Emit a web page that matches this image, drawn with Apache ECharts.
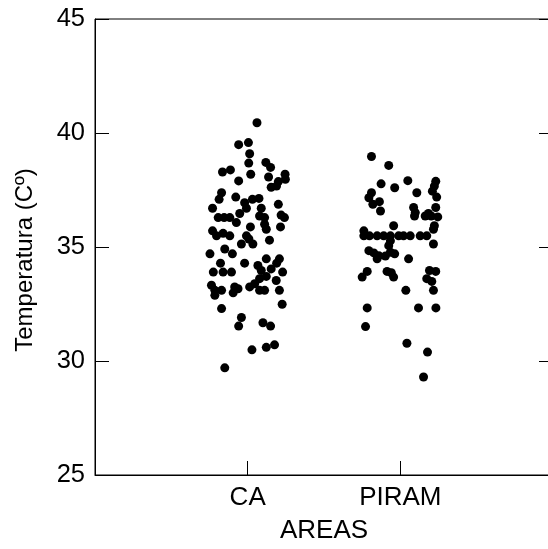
<!DOCTYPE html>
<html>
<head>
<meta charset="utf-8">
<script src="https://cdn.jsdelivr.net/npm/echarts@6/dist/echarts.min.js"></script>
<style>html,body{margin:0;padding:0;background:#fff;overflow:hidden;width:548px;height:549px}#c{width:556px;height:549px}</style>
</head>
<body>
<div id="c"></div>
<script>
var categories = ['CA', 'PIRAM'];
var yTicks = [25, 30, 35, 40, 45];

var caJitter = [0.061,-0.059,0.005,0.013,0.007,0.119,0.150,-0.165,-0.113,0.020,
  -0.059,0.137,0.245,0.247,0.201,0.154,0.189,-0.171,-0.187,-0.078,
  0.031,0.074,-0.230,-0.020,-0.008,0.089,0.201,-0.052,-0.193,-0.154,
  -0.117,0.078,0.111,0.219,0.241,-0.074,0.111,0.122,0.215,0.018,
  -0.230,-0.204,-0.161,-0.117,-0.008,0.008,0.034,-0.041,0.143,-0.150,
  -0.100,-0.247,-0.178,-0.020,0.122,0.208,0.190,0.067,-0.225,-0.161,
  -0.106,0.089,0.154,0.229,0.078,0.122,0.046,0.013,0.187,-0.237,
  -0.215,-0.171,-0.215,-0.085,-0.063,-0.095,0.078,0.111,0.208,-0.171,
  0.226,-0.041,-0.059,0.100,0.150,0.028,0.122,0.176,-0.150];
var caTemp = [40.45,39.49,39.58,39.09,38.68,38.71,38.49,38.29,38.38,38.19,
  37.90,38.07,38.19,37.97,37.87,37.62,37.67,37.38,37.09,37.19,
  37.09,37.13,36.70,36.94,36.70,36.70,36.87,36.47,36.29,36.29,
  36.29,36.36,36.29,36.40,36.29,36.07,36.00,35.78,35.88,35.88,
  35.71,35.49,35.60,35.49,35.49,35.35,35.13,35.13,35.30,34.91,
  34.70,34.70,34.29,34.29,34.48,34.48,34.29,34.19,33.90,33.90,
  33.90,33.97,34.04,33.90,33.61,33.71,33.39,33.25,33.53,33.32,
  33.10,33.10,32.88,33.25,33.17,32.99,33.10,33.10,33.10,32.30,
  32.49,31.91,31.53,31.68,31.53,30.49,30.60,30.71,29.70];

var piramJitter = [-0.189,-0.076,-0.126,-0.037,0.049,0.108,0.232,0.223,0.210,0.238,
  -0.189,-0.206,-0.180,-0.137,-0.130,0.087,0.098,0.093,0.184,0.163,
  0.202,0.232,0.245,-0.044,0.223,-0.239,-0.202,-0.152,-0.109,-0.065,
  -0.011,0.021,0.065,0.130,0.173,-0.239,0.217,-0.065,-0.076,0.217,
  -0.206,-0.174,-0.141,-0.152,-0.098,-0.065,-0.037,0.054,-0.217,-0.250,
  -0.087,-0.059,-0.044,0.191,0.232,0.173,0.206,0.036,0.217,-0.217,
  0.119,0.233,-0.228,0.043,0.178,0.152];
var piramTemp = [38.97,38.58,37.77,37.60,37.91,37.38,37.88,37.67,37.45,37.19,
  37.38,37.16,36.87,36.99,36.58,36.73,36.51,36.36,36.47,36.36,
  36.36,36.73,36.32,35.93,35.93,35.49,35.49,35.49,35.49,35.49,
  35.49,35.49,35.49,35.49,35.49,35.71,35.78,35.27,35.06,35.13,
  34.84,34.74,34.62,34.48,34.60,34.77,34.70,34.48,33.93,33.68,
  33.93,33.87,33.68,33.97,33.93,33.61,33.49,33.10,33.10,32.33,
  32.33,32.33,31.51,30.78,30.39,29.30];

function build(jit, temp, idx) {
  var out = [];
  for (var i = 0; i < temp.length; i++) out.push([idx + 1 + jit[i], temp[i]]);
  return out;
}

var FONT = 'Liberation Sans, Arial, Helvetica, sans-serif';
var chart = echarts.init(document.getElementById('c'));
var lineStyle = { color: '#000', width: 1 };
chart.setOption({
  animation: false,
  backgroundColor: '#fff',
  grid: { left: 95, top: 19, right: 0, bottom: 71, show: true, borderColor: '#000', borderWidth: 1, containLabel: false },
  xAxis: [{
    type: 'value', min: 0, max: categories.length + 1, interval: 1,
    name: 'AREAS', nameLocation: 'middle', nameGap: 43,
    nameTextStyle: { fontFamily: FONT, fontSize: 26, color: '#000' },
    axisLine: { show: true, lineStyle: lineStyle },
    axisTick: { show: true, inside: true, length: 14, lineStyle: lineStyle },
    axisLabel: { fontFamily: FONT, fontSize: 26, color: '#000', margin: 10,
      formatter: function (v) { return categories[Math.round(v) - 1] || ''; } },
    splitLine: { show: false }
  }],
  yAxis: [{
    type: 'value', min: yTicks[0], max: yTicks[yTicks.length - 1], interval: 5, position: 'left',
    name: 'Temperatura (Cº)', nameLocation: 'middle', nameGap: 58,
    nameTextStyle: { fontFamily: FONT, fontSize: 24, color: '#000', padding: [0, 26, 0, 0] },
    axisLine: { show: true, lineStyle: lineStyle },
    axisTick: { show: true, inside: true, length: 14, lineStyle: lineStyle },
    axisLabel: { fontFamily: FONT, fontSize: 25.5, color: '#000', margin: 10 },
    splitLine: { show: false }
  }, {
    type: 'value', min: yTicks[0], max: yTicks[yTicks.length - 1], interval: 5, position: 'right',
    axisLine: { show: true, lineStyle: lineStyle },
    axisTick: { show: true, inside: true, length: 14, lineStyle: lineStyle },
    axisLabel: { show: false },
    splitLine: { show: false }
  }],
  series: [{
    name: categories[0], type: 'scatter', symbol: 'circle', symbolSize: 9,
    itemStyle: { color: '#000', opacity: 1 }, data: build(caJitter, caTemp, 0)
  }, {
    name: categories[1], type: 'scatter', symbol: 'circle', symbolSize: 9,
    itemStyle: { color: '#000', opacity: 1 }, data: build(piramJitter, piramTemp, 1)
  }]
});
</script>
</body>
</html>
